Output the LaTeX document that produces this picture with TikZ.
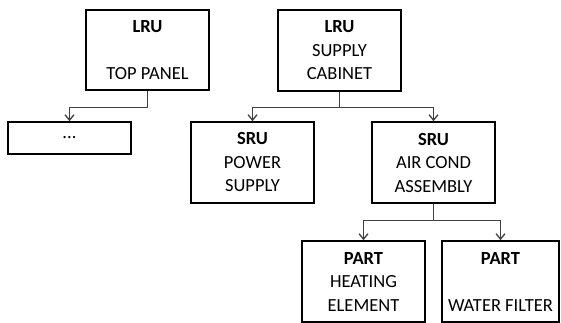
\documentclass[tikz,border=0pt]{standalone}
\usepackage{fontspec}
\setmainfont{Carlito}
\usetikzlibrary{arrows.meta, positioning}

\begin{document}
\begin{tikzpicture}[
    x=1pt, y=-1pt,
    every node/.style={font=\fontsize{18.5}{23.5}\selectfont},
    unit/.style={rectangle, draw=black, line width=1.6pt, minimum width=#1, minimum height=81pt, align=center, inner sep=0pt},
    unit/.default=123pt,
    arrow/.style={-{Straight Barb[length=5.5pt, width=9pt]}, line width=1.3pt, draw=black!75}
]
\useasboundingbox (0,0) rectangle (561,323);

% Top level
\node[unit, minimum height=80pt] (top) at (147.5,50) {\textbf{LRU}\\~\\TOP PANEL};
\node[unit] (cabinet) at (339.5,50.5) {\textbf{LRU}\\SUPPLY\\CABINET};

% Second level
\node[unit, minimum height=32pt] (dots) at (69.5,138) {...};
\node[unit] (power) at (252.5,162.5) {\textbf{SRU}\\POWER\\SUPPLY};
\node[unit] (aircond) at (433.5,162.5) {\textbf{SRU}\\AIR COND\\ASSEMBLY};

% Parts
\node[unit] (heater) at (363.5,281.5) {\textbf{PART}\\HEATING\\ELEMENT};
\node[unit=117pt] (filter) at (500.5,281.5) {\textbf{PART}\\~\\WATER FILTER};

% Connectors
\draw[arrow] (top.south) -- ++(0,17) -| (dots.north);
\draw[arrow] (cabinet.south) -- ++(0,15.5) -| (power.north);
\draw[arrow] (cabinet.south) -- ++(0,15.5) -| (aircond.north);
\draw[arrow] (aircond.south) -- ++(0,17) -| (heater.north);
\draw[arrow] (aircond.south) -- ++(0,17) -| (filter.north);

\end{tikzpicture}
\end{document}
